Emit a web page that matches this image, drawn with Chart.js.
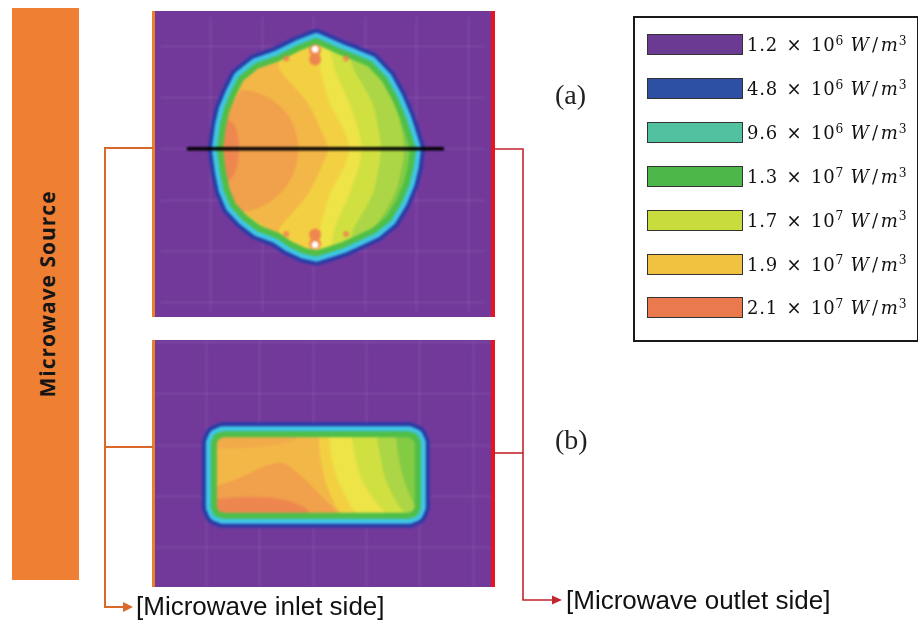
<!DOCTYPE html>
<html>
<head>
<meta charset="utf-8">
<title>Microwave power density</title>
<script src="https://cdn.jsdelivr.net/npm/chart.js@4.4.1/dist/chart.umd.min.js"></script>
<style>
  html, body { margin: 0; padding: 0; background: #fff; }
  #page { position: relative; width: 918px; height: 621px; overflow: hidden; }
  .abs { position: absolute; }
  #source { left: 12px; top: 8px; width: 67px; height: 572px; background: #ef7f33; }
  #sourceLabel { left: 47px; top: 294px; transform: translate(-50%, -50%) rotate(-90deg);
    font: bold 21px 'Open Sans', sans-serif; letter-spacing: 1px; color: #151515; white-space: nowrap; }
  .panel { left: 155px; width: 336px; background: #72399b; overflow: hidden; }
  .panel canvas { display: block; filter: blur(0.9px); }
  .inEdge { left: 152px; width: 3px; background: #e8822a; }
  .outEdge { left: 491px; width: 4px; background: #e5141e; }
  .tag { left: 555px; font: 28px 'Liberation Serif', serif; color: #222; line-height: 30px; }
  .side { font: 26px 'Liberation Sans', Arial, sans-serif; color: #111; line-height: 28px; white-space: nowrap; }
  #legendBox { left: 633px; top: 16px; width: 282px; height: 322px; border: 2px solid #1a1a1a; }
  .entry { left: 647px; height: 21px; display: flex; align-items: center; white-space: nowrap; }
  .swatch { width: 94px; height: 19px; border: 1px solid #333; }
  .lbl { margin-left: 4px; font: 18px 'DejaVu Serif', serif; color: #111; letter-spacing: 0.8px; }
  .lbl .op { margin: 0 2px; }
  .lbl sup { font-size: 0.68em; position: relative; top: -0.5em; vertical-align: baseline; line-height: 0; }
  svg { position: absolute; left: 0; top: 0; }
</style>
</head>
<body>
<div id="page">
  <div id="source" class="abs"></div>
  <div id="sourceLabel" class="abs">Microwave Source</div>

  <div class="abs panel" style="top:11px;height:306px"><canvas id="panelA" width="336" height="306"></canvas></div>
  <div class="abs panel" style="top:340px;height:247px"><canvas id="panelB" width="336" height="247"></canvas></div>
  <div class="abs inEdge" style="top:11px;height:306px"></div>
  <div class="abs inEdge" style="top:340px;height:247px"></div>
  <div class="abs outEdge" style="top:11px;height:306px"></div>
  <div class="abs outEdge" style="top:340px;height:247px"></div>

  <svg width="918" height="621">
    <g stroke="#d8692b" stroke-width="2" fill="none">
      <polyline points="153,148 105,148 105,607 124,607"/>
      <line x1="105" y1="447" x2="153" y2="447"/>
    </g>
    <polygon points="123,602 133,607 123,612" fill="#d8692b"/>
    <g stroke="#c4262e" stroke-width="1.6" fill="none">
      <polyline points="495,149 523,149 523,600 553,600"/>
      <line x1="495" y1="453" x2="523" y2="453"/>
    </g>
    <polygon points="552,595.5 562,600 552,604.5" fill="#c4262e"/>
  </svg>

  <div class="abs tag" style="top:80px">(a)</div>
  <div class="abs tag" style="top:425px">(b)</div>
  <div class="abs side" style="left:136px;top:592px">[Microwave inlet side]</div>
  <div class="abs side" style="left:566px;top:586px">[Microwave outlet side]</div>

  <div id="legendBox" class="abs"></div>
  <div id="legend"></div>
</div>

<script>
// power density levels shown in the legend
const LEVEL_VALUES = ['1.2', '4.8', '9.6', '1.3', '1.7', '1.9', '2.1'];
const LEVEL_EXPONENTS = [6, 6, 6, 7, 7, 7, 7];
const LEVEL_COLORS = ['#6b3a93', '#2d4fa4', '#52c1a0', '#4db849', '#c9dc3d', '#f1c23f', '#ea7a4d'];

// both panels share the same x extent (mm), grid every 10 mm
const X_RANGE = [-9.63, 53.3];
const Y_RANGE_A = [-31.6, 25.7];
const Y_RANGE_B = [-27.7, 20.5];

// (a) cylinder: edge of the load (middle of the green rim) and contour lines, mm
const RING_A = [[20.5,21.0],[22.8,20.0],[25.0,19.0],[27.8,17.9],[30.9,16.6],[33.8,13.5],[35.8,9.8],[37.4,6.0],[38.5,2.6],[39.3,0],
  [38.9,-3.4],[38.1,-6.7],[36.6,-10.3],[34.6,-13.6],[31.8,-15.9],[28.6,-17.4],[25.8,-18.7],[22.8,-19.7],[20.5,-20.4],
  [18.3,-19.9],[15.5,-18.6],[13.0,-16.9],[9.3,-15.5],[6.6,-13.4],[4.4,-11.0],[3.1,-7.9],[2.4,-4.5],[1.8,0],
  [2.4,4.5],[3.1,7.5],[4.4,10.7],[5.9,13.7],[9.0,16.2],[13.0,17.6],[17.0,19.6],[20.5,21.0]];
const LIGHT_GREEN_A = [[28.0,26],[31.9,15.5],[35.7,9.0],[37.2,3.4],[37.6,0],[37.2,-3.4],[35.7,-9.0],[31.9,-15.5],[28.0,-26]];
const YELLOW_GREEN_A = [[24.5,26],[27.8,15.5],[31.4,9.0],[32.7,3.4],[33.1,0],[32.7,-3.4],[31.4,-9.0],[27.8,-15.5],[24.5,-26]];
const YELLOW_A = [[22.0,26],[24.1,15.5],[26.9,9.0],[28.8,3.4],[29.3,0],[28.8,-3.4],[26.9,-9.0],[24.1,-15.5],[22.0,-26]];
const YELLOW_ORANGE_A = [[19.5,26],[21.3,15.5],[23.1,9.0],[26.0,3.4],[26.9,0],[26.0,-3.4],[23.1,-9.0],[21.3,-15.5],[19.5,-26]];
const LIGHT_ORANGE_A = [[12.5,26],[13.4,15.5],[18.8,9.0],[21.6,3.4],[22.8,0],[21.6,-3.4],[18.8,-9.0],[13.4,-15.5],[12.5,-26]];
const ORANGE_A = [[6.0,11.5],[9.0,11.0],[11.5,9.8],[14.2,7.6],[16.2,4.3],[17.0,0],[16.2,-4.5],[14.2,-7.9],[11.5,-10.3],
  [9.0,-11.6],[6.0,-12.0],[4.0,-9.0],[2.5,-4.0],[2.2,0],[2.5,4.0],[4.0,8.5]];
const RED_A = [[2.9,6.2],[4.8,4.3],[5.5,0],[4.8,-4.5],[2.9,-6.9],[0.5,-5.0],[0,0],[0.5,5.0]];
const HOT_SPOTS_A = [[20.3,19.4],[20.3,-18.7]];
const SPOT_GLOW_A = [[20.3,19.2],[20.3,17.4],[20.3,-18.5],[20.3,-16.7]];
const SIDE_DOTS_A = [[14.7,17.6],[26.3,17.6],[14.7,-16.6],[26.3,-16.6]];
const CUT_LINE_A = [[-4.6,0],[45.3,0]];

// (b) slab: rim and contour lines, mm
const RING_B = [[3.1,2.1],[37.9,2.1],[39.1,1.6],[39.6,0.4],[39.6,-12.1],[39.1,-13.3],[37.9,-13.8],[3.1,-13.8],
  [1.9,-13.3],[1.4,-12.1],[1.4,0.4],[1.9,1.6],[3.1,2.1]];
const LIGHT_GREEN_B = [[35.0,6],[35.3,3.9],[35.9,-1.9],[37.0,-6.8],[38.9,-11.7],[40.9,-15.6],[42.0,-18]];
const YELLOW_GREEN_B = [[31.4,6],[31.6,3.9],[32.5,-1.9],[33.6,-6.8],[35.9,-11.7],[38.5,-15.6],[40.0,-18]];
const YELLOW_B = [[26.7,6],[26.9,3.9],[27.8,-1.9],[29.1,-6.8],[32.1,-11.7],[35.3,-15.6],[37.0,-18]];
const YELLOW_ORANGE_B = [[22.6,6],[22.8,3.9],[23.3,-1.9],[24.6,-6.8],[26.9,-11.7],[29.1,-15.6],[30.0,-18]];
const LIGHT_ORANGE_B = [[20.7,6],[20.9,3.9],[21.3,-1.9],[22.2,-6.8],[24.1,-11.7],[26.0,-15.6],[27.0,-18]];
const ORANGE_TOP_B = [[0,4],[17.5,4],[16.6,1.0],[10.0,-0.4],[0,-0.6]];
const ORANGE_B = [[0,-8.8],[6.3,-6.4],[11.0,-4.1],[14.2,-3.5],[17.5,-5.8],[21.3,-9.7],[25.0,-13.6],[26.0,-18],[0,-18]];
const RED_B = [[0,-10.7],[8.2,-10.1],[14.7,-10.7],[18.5,-12.3],[20.3,-15.6],[21.0,-18],[0,-18]];

const C = {
  purple: '#72399b', blue: '#2b3ba6', cyan: '#3fc6e4', rim: '#4fbf48', green: '#84cb44',
  lightGreen: '#acd645', yellowGreen: '#d1e041', yellow: '#eee347', yellowOrange: '#f3d042',
  lightOrange: '#f3b747', orangeTop: '#f2ab49', orange: '#f1a04b', red: '#ee874f'
};
const GRID_COLOR = 'rgba(255,255,255,0.12)';

// legend
const legend = document.getElementById('legend');
LEVEL_VALUES.forEach((v, i) => {
  const row = document.createElement('div');
  row.className = 'abs entry';
  row.style.top = (34 + i * 43.9) + 'px';
  row.innerHTML = `<span class="swatch" style="background:${LEVEL_COLORS[i]}"></span>` +
    `<span class="lbl">${v}<span class="op"> × </span>10<sup>${LEVEL_EXPONENTS[i]}</sup> <i>W</i><span class="op">/</span><i>m</i><sup>3</sup></span>`;
  legend.appendChild(row);
});

const pts = arr => arr.map(([x, y]) => ({x, y}));

// region left of a contour line
const leftOf = line => [...line, [X_RANGE[0] - 20, line[line.length - 1][1]], [X_RANGE[0] - 20, line[0][1]]];

// keep a region inside the load outline (Sutherland-Hodgman)
const cross = (a, b, p) => (b[0] - a[0]) * (p[1] - a[1]) - (b[1] - a[1]) * (p[0] - a[0]);
function clipTo(subject, outline) {
  const ring = outline.slice(0, -1);
  let area = 0;
  ring.forEach((p, i) => { const q = ring[(i + 1) % ring.length]; area += p[0] * q[1] - q[0] * p[1]; });
  const s = Math.sign(area);
  let out = subject;
  ring.forEach((a, i) => {
    const b = ring[(i + 1) % ring.length];
    const inp = out;
    out = [];
    inp.forEach((p, j) => {
      const q = inp[(j + 1) % inp.length];
      const d1 = cross(a, b, p), d2 = cross(a, b, q);
      const pIn = s * d1 >= 0, qIn = s * d2 >= 0;
      if (pIn) out.push(p);
      if (pIn !== qIn) {
        const t = d1 / (d1 - d2);
        out.push([p[0] + (q[0] - p[0]) * t, p[1] + (q[1] - p[1]) * t]);
      }
    });
  });
  return out;
}

const fillLayer = (data, color, tension = 0.3) => ({
  data: pts(data), showLine: true, fill: 'shape', backgroundColor: color,
  borderColor: 'transparent', borderWidth: 0, pointRadius: 0, tension
});
const strokeLayer = (data, color, width) => ({
  data: pts(data), showLine: true, fill: false, borderColor: color, borderWidth: width,
  borderJoinStyle: 'round', borderCapStyle: 'round', pointRadius: 0, tension: 0
});
const dotLayer = (data, color, r) => ({
  data: pts(data), showLine: false, pointRadius: r, pointBorderWidth: 0,
  pointBackgroundColor: color, backgroundColor: color, borderColor: color
});

const panelBackground = {
  id: 'panelBackground',
  beforeDraw(chart) {
    const {ctx, chartArea: a} = chart;
    ctx.save();
    ctx.fillStyle = C.purple;
    ctx.fillRect(a.left, a.top, a.width, a.height);
    ctx.restore();
  }
};

function makePanel(id, yRange, layers) {
  const n = layers.length;
  return new Chart(document.getElementById(id), {
    type: 'scatter',
    data: { datasets: layers.map((d, i) => ({...d, order: n - i})) },
    options: {
      responsive: false,
      animation: false,
      events: [],
      devicePixelRatio: 1,
      layout: { padding: 0 },
      plugins: { legend: { display: false }, tooltip: { enabled: false } },
      scales: {
        x: {
          type: 'linear', min: X_RANGE[0], max: X_RANGE[1], z: 1,
          border: { display: false },
          grid: { color: GRID_COLOR, drawTicks: false },
          ticks: { display: false, stepSize: 10, includeBounds: false },
          afterFit(s) { s.height = 0; }
        },
        y: {
          type: 'linear', min: yRange[0], max: yRange[1], z: 1,
          border: { display: false },
          grid: { color: GRID_COLOR, drawTicks: false },
          ticks: { display: false, stepSize: 10, includeBounds: false },
          afterFit(s) { s.width = 0; }
        }
      }
    },
    plugins: [panelBackground]
  });
}

// layers listed bottom to top
makePanel('panelA', Y_RANGE_A, [
  strokeLayer(RING_A, C.blue, 24),
  strokeLayer(RING_A, C.cyan, 16),
  fillLayer(RING_A, C.green, 0),
  fillLayer(clipTo(leftOf(LIGHT_GREEN_A), RING_A), C.lightGreen),
  fillLayer(clipTo(leftOf(YELLOW_GREEN_A), RING_A), C.yellowGreen),
  fillLayer(clipTo(leftOf(YELLOW_A), RING_A), C.yellow),
  fillLayer(clipTo(leftOf(YELLOW_ORANGE_A), RING_A), C.yellowOrange),
  fillLayer(clipTo(leftOf(LIGHT_ORANGE_A), RING_A), C.lightOrange),
  fillLayer(clipTo(ORANGE_A, RING_A), C.orange),
  fillLayer(clipTo(RED_A, RING_A), C.red),
  strokeLayer(RING_A, C.rim, 6),
  dotLayer(SIDE_DOTS_A, 'rgba(238,128,78,0.8)', 3),
  dotLayer(SPOT_GLOW_A, C.red, 6),
  dotLayer(HOT_SPOTS_A, '#ffffff', 3.5),
  { data: pts(CUT_LINE_A), showLine: true, fill: false, borderColor: '#000', borderWidth: 3.5, pointRadius: 0 }
]);

makePanel('panelB', Y_RANGE_B, [
  strokeLayer(RING_B, C.blue, 24),
  strokeLayer(RING_B, C.cyan, 16),
  fillLayer(RING_B, C.green, 0),
  fillLayer(clipTo(leftOf(LIGHT_GREEN_B), RING_B), C.lightGreen),
  fillLayer(clipTo(leftOf(YELLOW_GREEN_B), RING_B), C.yellowGreen),
  fillLayer(clipTo(leftOf(YELLOW_B), RING_B), C.yellow),
  fillLayer(clipTo(leftOf(YELLOW_ORANGE_B), RING_B), C.yellowOrange),
  fillLayer(clipTo(leftOf(LIGHT_ORANGE_B), RING_B), C.lightOrange),
  fillLayer(clipTo(ORANGE_TOP_B, RING_B), C.orangeTop),
  fillLayer(clipTo(ORANGE_B, RING_B), C.orange),
  fillLayer(clipTo(RED_B, RING_B), C.red),
  strokeLayer(RING_B, C.rim, 6)
]);
</script>
</body>
</html>
